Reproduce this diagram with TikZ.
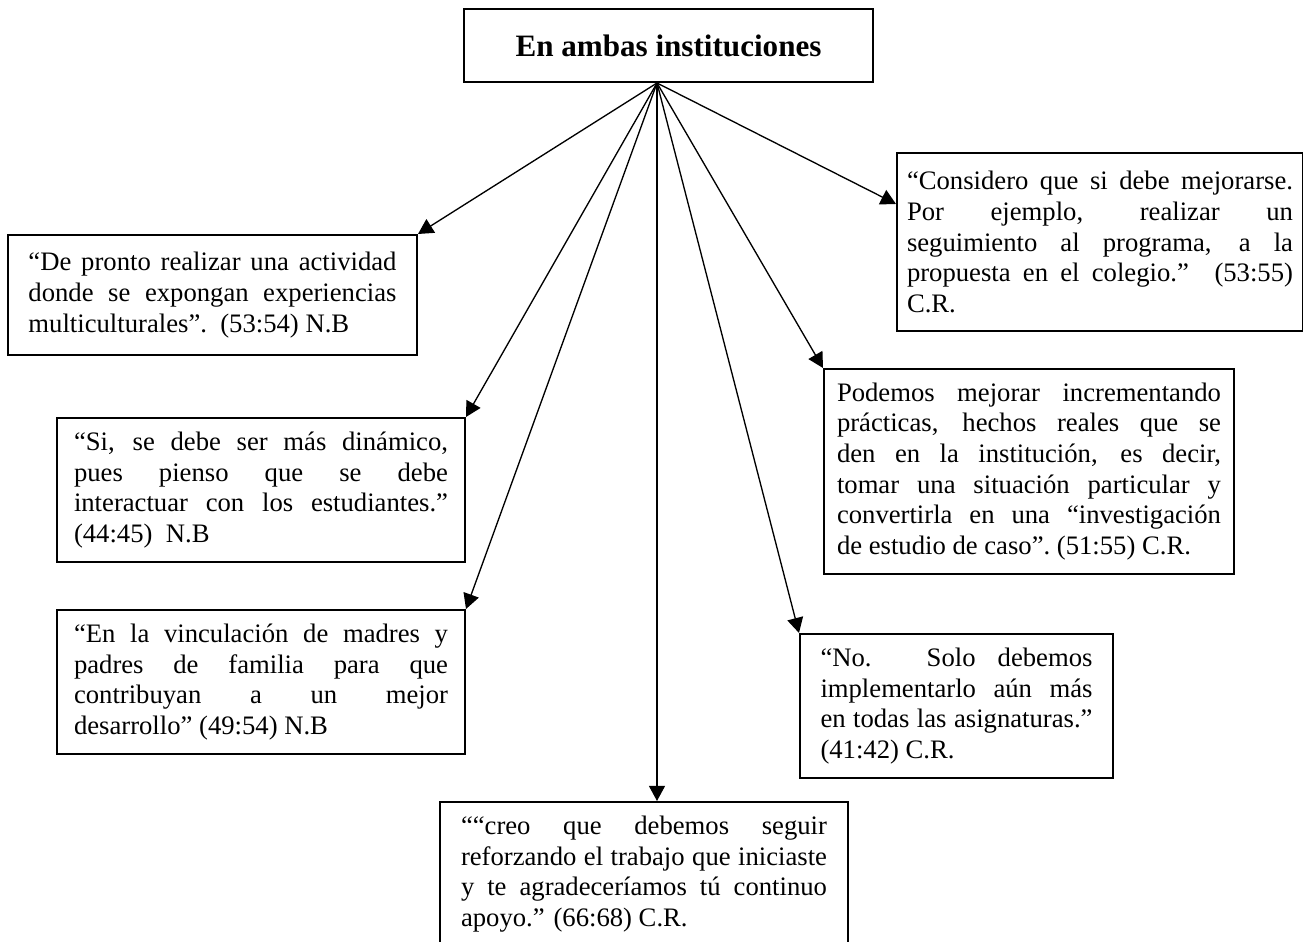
\documentclass[tikz,border=0pt]{standalone}
\usepackage{fontspec}
\setmainfont{Liberation Serif}
\usetikzlibrary{arrows.meta}

\tolerance=10000
\hyphenpenalty=10000

\newlength{\pix}
\setlength{\pix}{0.45pt}

\tikzstyle{heading} = [rectangle, anchor=north west, minimum width=409\pix, minimum height=73\pix, text centered, draw=black, line width=0.9pt, font=\fontsize{14}{16}\selectfont\bfseries]
\tikzstyle{quotebox} = [rectangle, anchor=north west, inner xsep=0pt, align=justify, draw=black, line width=0.9pt, font=\fontsize{12}{13.8}\selectfont]
\tikzstyle{arrow} = [line width=0.6pt,-{Triangle[length=6.8pt,width=7.2pt]}]

\begin{document}
\begin{tikzpicture}[x=0.45pt,y=-0.45pt]

	\clip (0,0) rectangle (1303,942);
	\node (both) [heading] at (463,8) {En ambas instituciones};
	\coordinate (hub) at ([xshift=-11.5\pix]both.south);
	
	% left column
	\node (quote a) [quotebox, minimum width=409\pix, minimum height=120\pix, text width=368\pix] at (7,234) {“De pronto realizar una actividad\linebreak donde se expongan experiencias\linebreak multiculturales”.\ \ (53:54) N.B};
	\node (quote b) [quotebox, minimum width=408\pix, minimum height=144\pix, text width=374\pix] at (56,417) {“Si, se debe ser más dinámico,\linebreak pues pienso que se debe\linebreak interactuar con los estudiantes.”\linebreak (44:45)\ \ N.B};
	\node (quote c) [quotebox, minimum width=408\pix, minimum height=144\pix, text width=374\pix] at (56,609) {“En la vinculación de madres y\linebreak padres de familia para que\linebreak contribuyan a un mejor\linebreak desarrollo” (49:54) N.B};
	\node (quote d) [quotebox, minimum width=408\pix, minimum height=144\pix, text width=366\pix] at (439,801) {““creo que debemos seguir\linebreak reforzando el trabajo que iniciaste\linebreak y te agradeceríamos tú continuo\linebreak apoyo.” (66:68) C.R.};
	
	% right column
	\node (quote e) [quotebox, minimum width=406\pix, minimum height=178\pix, text width=386\pix] at (896,152) {“Considero que si debe mejorarse.\linebreak Por ejemplo, realizar un\linebreak seguimiento al programa, a la\linebreak propuesta en el colegio.” (53:55)\linebreak C.R.};
	\node (quote f) [quotebox, minimum width=410\pix, minimum height=205\pix, text width=384\pix] at (823,368) {Podemos mejorar incrementando\linebreak prácticas, hechos reales que se\linebreak den en la institución, es decir,\linebreak tomar una situación particular y\linebreak convertirla en una “investigación\linebreak de estudio de caso”.\ (51:55) C.R.};
	\node (quote g) [quotebox, minimum width=313\pix, minimum height=144\pix, text width=272\pix] at (799,633) {“No. Solo debemos\linebreak implementarlo aún más\linebreak en todas las asignaturas.”\linebreak (41:42) C.R.};
	
	%arrow
	\draw [arrow] (hub) -- (quote a.north east);
	\draw [arrow] (hub) -- (quote b.north east);
	\draw [arrow] (hub) -- (quote c.north east);
	\draw [arrow] (hub) -- (hub |- quote d.north);
	\draw [arrow] (hub) -- (quote g.north west);
	\draw [arrow] (hub) -- (quote f.north west);
	\draw [arrow] (hub) -- ([yshift=38\pix]quote e.west);
	
\end{tikzpicture}
\end{document}
